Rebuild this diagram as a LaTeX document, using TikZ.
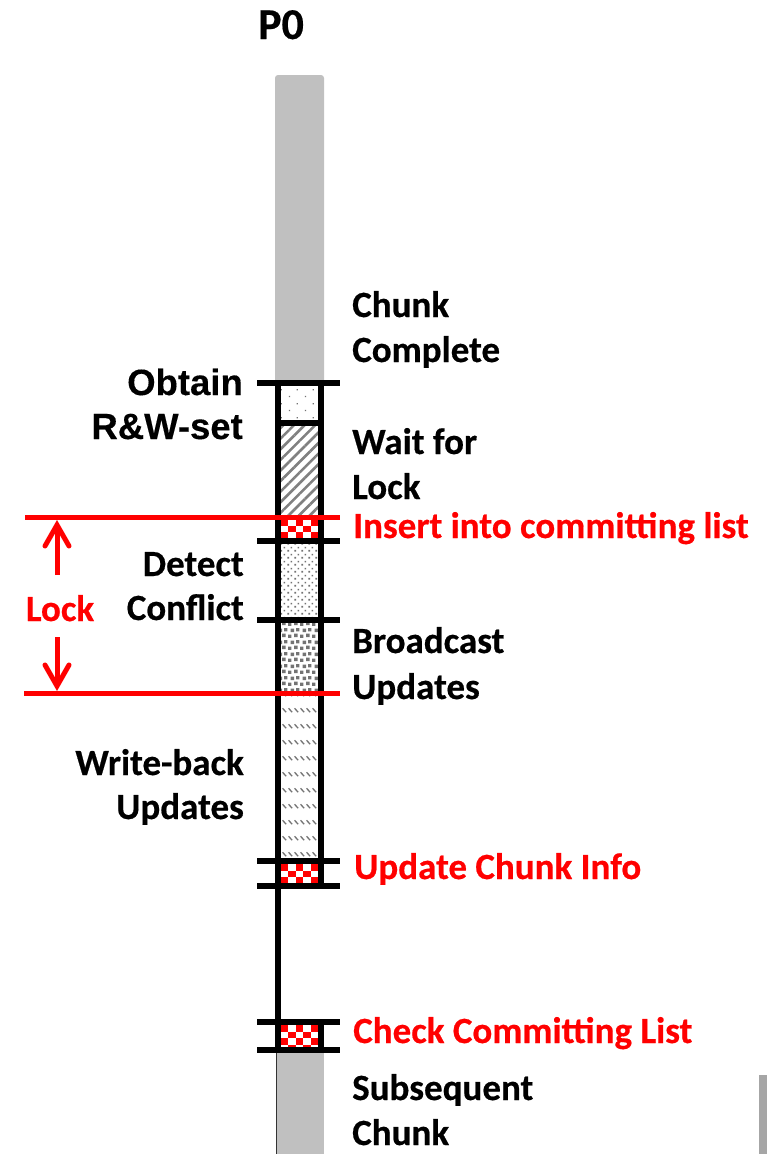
\documentclass[tikz,border=0pt]{standalone}
\usepackage{fontspec}
\setmainfont{Carlito}[BoldFeatures={FakeBold=0.5}]
\newfontfamily\arialbold{Liberation Sans}[UprightFont={* Bold}, FakeBold=0.3]
\usetikzlibrary{calc,patterns,patterns.meta}

% sparse dots
\pgfdeclarepatternformonly{sparsedots}{\pgfpointorigin}{\pgfpoint{16pt}{14pt}}{\pgfpoint{16pt}{14pt}}{%
  \pgfpathrectangle{\pgfpoint{1pt}{1pt}}{\pgfpoint{1.3pt}{1.3pt}}%
  \pgfpathrectangle{\pgfpoint{9pt}{8pt}}{\pgfpoint{1.3pt}{1.3pt}}%
  \pgfusepath{fill}}
% fine staggered dots
\pgfdeclarepatternformonly{finedots}{\pgfpointorigin}{\pgfpoint{7pt}{7pt}}{\pgfpoint{7pt}{7pt}}{%
  \pgfpathrectangle{\pgfpoint{0.5pt}{0.5pt}}{\pgfpoint{1.8pt}{1.8pt}}%
  \pgfpathrectangle{\pgfpoint{4pt}{4pt}}{\pgfpoint{1.8pt}{1.8pt}}%
  \pgfusepath{fill}}
% coarse grainy squares
\pgfdeclarepatternformonly{grains}{\pgfpointorigin}{\pgfpoint{12pt}{12pt}}{\pgfpoint{12pt}{12pt}}{%
  \pgfpathrectangle{\pgfpoint{0pt}{0pt}}{\pgfpoint{3.6pt}{3.6pt}}%
  \pgfpathrectangle{\pgfpoint{6.5pt}{1pt}}{\pgfpoint{3.6pt}{3.6pt}}%
  \pgfpathrectangle{\pgfpoint{2.8pt}{6.4pt}}{\pgfpoint{3.6pt}{3.6pt}}%
  \pgfpathrectangle{\pgfpoint{8.6pt}{7.2pt}}{\pgfpoint{3.4pt}{3.4pt}}%
  \pgfusepath{fill}}
% rows of short back-slashes
\pgfdeclarepatternformonly{slashrows}{\pgfpointorigin}{\pgfpoint{6pt}{16pt}}{\pgfpoint{6pt}{16pt}}{%
  \pgfsetlinewidth{1.4pt}%
  \pgfpathmoveto{\pgfpoint{0.6pt}{14.5pt}}\pgfpathlineto{\pgfpoint{4.8pt}{10.3pt}}%
  \pgfusepath{stroke}}

\definecolor{bargray}{RGB}{192,192,192}
\definecolor{edgegray}{RGB}{166,166,166}
\definecolor{patgray}{RGB}{115,115,115}

\tikzset{
  lbl/.style={font=\fontsize{37}{45}\selectfont\bfseries, inner sep=0pt},
  redlbl/.style={lbl, text=red},
  arlbl/.style={font=\fontsize{36.5}{44}\selectfont\arialbold, inner sep=0pt},
  frame/.style={line width=6pt, black, line cap=butt},
  tick/.style={line width=6pt, black},
  lockline/.style={line width=5pt, red},
  barb/.style={line width=5pt, red, line join=miter, line cap=round},
}

\newcommand{\drawchecker}[2]{%
  \begin{scope}
    \clip (281,#1) rectangle (318,#2);
    \fill[white] (281,#1) rectangle (318,#2);
    \foreach \c in {0,...,4}{\foreach \r in {0,...,3}{%
      \pgfmathtruncatemacro\pty{mod(\c+\r,2)}%
      \ifnum\pty=0 \fill[red] ({281+7.4*\c},{#1+6.6*\r}) rectangle ++(7.4,6.6);\fi
    }}
  \end{scope}}

\begin{document}
\begin{tikzpicture}[x=1pt,y=-1pt]
\useasboundingbox (0,0) rectangle (769,1154);

% process bar
\fill[bargray, rounded corners=3pt] (275,383) -- (275,75) -- (324,75) -- (324,383) -- cycle;
\fill[bargray] (276,1050) rectangle (324,1154);
\draw[line width=1pt, black!80] (276,1050) -- (276,1154);
\fill[edgegray] (759,1075) rectangle (767,1154);

% phases
\fill[white] (281,386) rectangle (318,421);
\fill[pattern=sparsedots, pattern color=patgray] (281,386) rectangle (318,421);
\fill[white] (281,426) rectangle (318,517);
\fill[pattern={Lines[angle=45,distance=7.5pt,line width=2.6pt]}, pattern color=gray] (281,426) rectangle (318,517);
\drawchecker{519}{538}
\fill[white] (281,544) rectangle (318,618);
\fill[pattern=finedots, pattern color=patgray] (281,544) rectangle (318,618);
\fill[white] (281,623) rectangle (318,693);
\fill[pattern=grains, pattern color=patgray] (281,623) rectangle (318,693);
\fill[white] (281,693) rectangle (318,859);
\fill[pattern=slashrows, pattern color=patgray] (281,693) rectangle (318,859);
\drawchecker{864}{883}
\drawchecker{1025}{1047}

% frame
\draw[frame] (278,383) -- (278,1050);
\draw[frame] (321,383) -- (321,886);
\draw[frame] (321,1022) -- (321,1050);
\draw[frame] (275,423) -- (324,423);
\foreach \yy in {383,541,620,861,886,1022,1050}
  \draw[tick] (257,\yy) -- (340,\yy);

% lock span
\coordinate (lt0) at (25,517);  \coordinate (lt1) at (340,517);
\coordinate (lb0) at (24,693);  \coordinate (lb1) at (340,693);
\draw[lockline] (lt0) -- (lt1);
\draw[lockline] (lb0) -- (lb1);
\coordinate (upfrom) at (57,575); \coordinate (upto) at (57,525);
\coordinate (dnfrom) at (57,637); \coordinate (dnto) at (57,686);
\draw[lockline] (upfrom) -- (upto);
\draw[barb] ($(upto)+(-12,21)$) -- (upto) -- ($(upto)+(12,21)$);
\draw[lockline] (dnfrom) -- (dnto);
\draw[barb] ($(dnto)+(-12,-21)$) -- (dnto) -- ($(dnto)+(12,-21)$);
\node[redlbl, anchor=base] (lock) at (60,621) {Lock};

% title
\node[lbl, font=\fontsize{44}{50}\selectfont\bfseries, anchor=base] (p0) at (281,39) {P0};

% right-hand labels
\node[lbl, anchor=base west] (cc1) at (352,317) {Chunk};
\node[lbl, anchor=base west] (cc2) at (352,362) {Complete};
\node[lbl, anchor=base west] (wl1) at (352,454) {Wait for};
\node[lbl, anchor=base west] (wl2) at (352,499) {Lock};
\node[redlbl, anchor=base west] (ins) at (353,538) {Insert into committing list};
\node[lbl, anchor=base west] (bu1) at (352,653) {Broadcast};
\node[lbl, anchor=base west] (bu2) at (352,699) {Updates};
\node[redlbl, anchor=base west] (uci) at (354,879) {Update Chunk Info};
\node[redlbl, anchor=base west] (ccl) at (353,1043) {Check Committing List};
\node[lbl, anchor=base west] (sc1) at (352,1100) {Subsequent};
\node[lbl, anchor=base west] (sc2) at (352,1145) {Chunk};

% left-hand labels
\node[arlbl, anchor=base east] (or1) at (243,395) {Obtain};
\node[arlbl, anchor=base east] (or2) at (243,439) {R\&W-set};
\node[lbl, anchor=base east] (dc1) at (244,576) {Detect};
\node[lbl, anchor=base east] (dc2) at (244,620) {Conflict};
\node[lbl, anchor=base east] (wb1) at (244,775) {Write-back};
\node[lbl, anchor=base east] (wb2) at (244,819) {Updates};
\end{tikzpicture}
\end{document}
